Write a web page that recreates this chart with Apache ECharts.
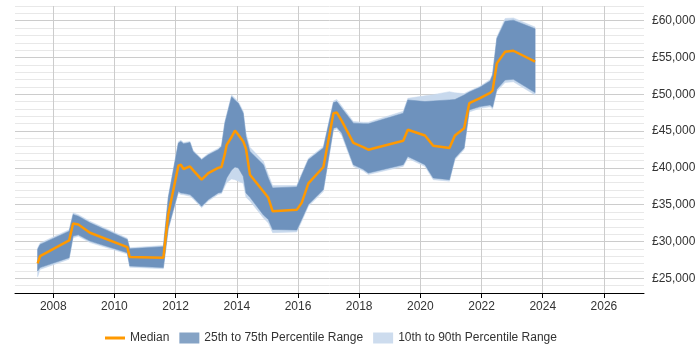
<!DOCTYPE html>
<html><head><meta charset="utf-8">
<script src="https://cdn.jsdelivr.net/npm/echarts@6/dist/echarts.min.js"></script>
<style>html,body{margin:0;padding:0;background:#fff}#c{width:700px;height:350px}</style>
</head><body><div id="c"></div>
<script>
const years = [2007.49,2007.57,2008.52,2008.65,2008.82,2009.20,2010.42,2010.50,2011.60,2011.76,
  2012.09,2012.17,2012.26,2012.47,2012.57,2012.85,2013.07,2013.39,2013.50,2013.61,
  2013.67,2013.83,2013.94,2014.05,2014.21,2014.30,2014.43,2014.87,2015.03,2015.17,
  2015.96,2016.12,2016.34,2016.83,2017.16,2017.27,2017.43,2017.81,2018.13,2018.30,
  2019.44,2019.59,2020.15,2020.42,2020.95,2021.13,2021.43,2021.60,2021.95,2022.28,
  2022.36,2022.50,2022.77,2023.04,2023.75];
const p10 = [25200,26200,27600,30500,30700,29850,28300,26500,26300,31600,
  36600,36400,36350,36150,35800,34600,35500,36400,36500,37500,
  38000,38500,38400,38200,37900,36000,35500,33200,32500,31200,
  31300,32700,34800,36800,45100,45300,44400,40200,39600,39100,
  40200,41300,40200,38400,38200,41100,42500,47600,48100,48300,
  48000,50400,51600,51700,49900];
const p25 = [25990,26450,27800,30730,30900,30050,28480,26670,26450,31800,
  36820,36600,36550,36370,36000,34790,35700,36600,36690,37900,
  38630,39700,40120,39990,38850,36600,36000,33600,33000,31630,
  31550,33000,35020,37050,45400,45540,44730,40430,39800,39310,
  40430,41560,40430,38630,38400,41340,42700,47880,48330,48560,
  48250,50700,51940,52040,50230];
const median = [27030,28020,30150,32450,32300,31190,29240,27900,27800,33670,
  40300,40430,39850,40200,39700,38400,39300,40000,40130,41900,
  43140,44200,45080,44500,43600,42600,39080,36800,35930,34110,
  34300,35250,37900,40120,47430,47520,46400,43400,42830,42470,
  43690,45180,44400,43010,42700,44400,45400,48790,49470,50200,
  50500,54200,55780,55920,54430];
const p75 = [28930,29600,31400,33670,33440,32540,30280,29000,29300,35930,
  43370,43590,43280,43460,42240,41110,41790,42470,42910,46080,
  47060,49680,49200,48790,47430,44270,42240,40430,38600,37280,
  37420,39000,41110,42700,48870,49010,48110,46080,46000,45990,
  47430,49240,49010,49100,49240,49300,49900,50300,50960,51800,
  52620,57590,59940,60080,58900];
const p90 = [29100,29800,31600,33900,33650,32750,30450,29150,29450,36100,
  43550,43750,43450,43600,42400,41250,41950,42650,43100,46300,
  47300,49900,49450,49000,47700,44700,42800,40900,39100,37600,
  37600,39200,41300,42900,49100,49300,48400,46300,46200,46200,
  47700,49450,49800,49950,50360,50200,50100,50450,51100,52000,
  52800,57800,60300,60380,59140];
const yearTicks = [2008,2010,2012,2014,2016,2018,2020,2022,2024,2026];

const rows = years.map((y, i) => [y, p10[i], p25[i], median[i], p75[i], p90[i]]);

function bandRenderer(loIdx, hiIdx, fill) {
  return function (params, api) {
    if (params.dataIndex !== 0) return null;
    const pts = [];
    for (let i = 0; i < rows.length; i++) pts.push(api.coord([rows[i][0], rows[i][hiIdx]]));
    for (let i = rows.length - 1; i >= 0; i--) pts.push(api.coord([rows[i][0], rows[i][loIdx]]));
    return { type: 'polygon', shape: { points: pts }, style: { fill: fill, stroke: fill, lineWidth: 0.5 } };
  };
}

const chart = echarts.init(document.getElementById('c'), null, { renderer: 'canvas' });
const minor = '#e8e8e8', major = '#cccccc';
chart.setOption({
  animation: false,
  textStyle: { fontFamily: '"Liberation Sans", Arial, sans-serif' },
  grid: { left: 15, right: 56, top: 6, bottom: 57, containLabel: false },
  xAxis: {
    type: 'value', min: 2006.75, max: 2027.31,
    axisLine: { show: true, lineStyle: { color: '#000', width: 1 } },
    axisTick: { show: true, length: 5, customValues: yearTicks, lineStyle: { color: '#000' } },
    axisLabel: { customValues: yearTicks, color: '#333', fontSize: 12, margin: 8, formatter: v => String(v) },
    splitLine: { show: true, lineStyle: { color: major, width: 1 } }
  },
  yAxis: {
    type: 'value', position: 'right', min: 23000, max: 62000, interval: 1000,
    axisLine: { show: false }, axisTick: { show: false },
    axisLabel: { color: '#333', fontSize: 12, margin: 8,
      formatter: v => (v % 5000 === 0 ? '£' + v.toLocaleString('en-GB') : '') },
    splitLine: { show: true, lineStyle: { color: [minor, minor, major, minor, minor], width: 1 } }
  },
  legend: {
    left: 100, top: 327, itemWidth: 20, itemHeight: 11, itemGap: 10,
    textStyle: { color: '#333', fontSize: 12 },
    data: [
      { name: 'Median', icon: 'path://M0,0 H20 V3 H0 Z', itemStyle: { color: '#ff9900' } },
      { name: '25th to 75th Percentile Range', icon: 'rect', itemStyle: { color: '#85a3c5' } },
      { name: '10th to 90th Percentile Range', icon: 'rect', itemStyle: { color: '#cddcee' } }
    ]
  },
  series: [
    { type: 'custom', name: '10th to 90th Percentile Range', renderItem: bandRenderer(1, 5, '#c8d9ed'),
      data: rows, encode: { x: 0, y: [1, 5] }, itemStyle: { color: '#cddcee' }, silent: true, z: 1 },
    { type: 'custom', name: '25th to 75th Percentile Range', renderItem: bandRenderer(2, 4, '#6e92bd'),
      data: rows, encode: { x: 0, y: [2, 4] }, itemStyle: { color: '#85a3c5' }, silent: true, z: 2 },
    { type: 'line', name: 'Median', data: years.map((y, i) => [y, median[i]]),
      symbol: 'none', lineStyle: { color: '#ff9900', width: 2.5 }, itemStyle: { color: '#ff9900' }, z: 3 }
  ]
});
</script>
</body></html>
